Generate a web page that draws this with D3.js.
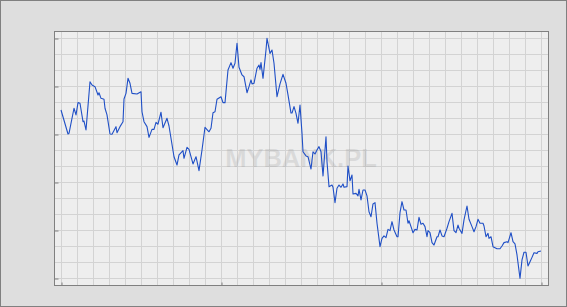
<!DOCTYPE html>
<html>
<head>
<meta charset="utf-8">
<script src="https://cdn.jsdelivr.net/npm/d3@7"></script>
<style>
    html, body { margin: 0; padding: 0; background: #dedede; }
    svg { display: block; }
</style>
</head>
<body>
<div class="chart-container"></div>
<script>
// session index (one per trading day shown) and closing value
const sessions = [
    0, 7, 8, 13, 15, 17, 19, 22, 23, 25, 29, 31, 34, 37, 38, 40, 43, 44, 46, 49,
    51, 55, 56, 59, 62, 63, 65, 67, 69, 71, 76, 80, 81, 83, 86, 88, 91, 93, 95, 97,
    100, 102, 106, 108, 113, 116, 118, 122, 123, 126, 128, 132, 135, 138, 141, 144, 148, 150, 152, 154,
    156, 160, 162, 164, 167, 170, 172, 174, 176, 178, 181, 183, 186, 188, 190, 191, 193, 196, 198, 199,
    200, 202, 205, 206, 209, 211, 213, 216, 219, 222, 225, 227, 230, 231, 233, 235, 237, 239, 241, 242,
    245, 247, 250, 252, 254, 256, 258, 260, 262, 265, 266, 268, 271, 272, 274, 276, 278, 280, 282, 283,
    286, 287, 289, 291, 292, 295, 297, 298, 300, 302, 304, 306, 308, 310, 312, 314, 316, 319, 321, 323,
    325, 327, 329, 331, 333, 336, 337, 339, 341, 343, 345, 347, 348, 350, 352, 354, 356, 358, 360, 362,
    364, 366, 367, 369, 371, 373, 376, 377, 379, 381, 383, 386, 388, 391, 393, 395, 397, 398, 401, 403,
    406, 408, 411, 413, 415, 417, 419, 422, 423, 425, 427, 428, 430, 432, 436, 439, 441, 443, 446, 447,
    450, 452, 454, 456, 459, 461, 463, 465, 467, 469, 471, 473, 476, 477, 480
];
const closes = [
    4.050, 3.900, 3.904, 4.061, 4.019, 4.096, 4.092, 3.977, 3.981, 3.925, 4.227, 4.206, 4.196, 4.144, 4.158, 4.123, 4.117, 4.061, 4.019, 3.900,
    3.898, 3.946, 3.908, 3.946, 3.977, 4.119, 4.154, 4.248, 4.217, 4.154, 4.150, 4.164, 4.039, 3.977, 3.946, 3.879, 3.929, 3.929, 3.973, 3.961,
    4.036, 3.939, 3.998, 3.950, 3.758, 3.706, 3.769, 3.796, 3.748, 3.817, 3.804, 3.713, 3.758, 3.671, 3.800, 3.942, 3.914, 3.936, 4.033, 4.039,
    4.117, 4.133, 4.096, 4.096, 4.300, 4.346, 4.311, 4.342, 4.467, 4.317, 4.269, 4.258, 4.158, 4.196, 4.238, 4.213, 4.217, 4.311, 4.331, 4.304,
    4.346, 4.248, 4.425, 4.498, 4.404, 4.425, 4.342, 4.133, 4.213, 4.273, 4.217, 4.144, 4.031, 4.031, 4.071, 4.029, 3.967, 4.081, 3.904, 3.789,
    3.763, 3.758, 3.681, 3.789, 3.775, 3.800, 3.821, 3.789, 3.638, 3.883, 3.727, 3.571, 3.581, 3.567, 3.471, 3.561, 3.581, 3.567, 3.588, 3.567,
    3.571, 3.700, 3.608, 3.644, 3.525, 3.529, 3.513, 3.554, 3.488, 3.550, 3.550, 3.513, 3.414, 3.383, 3.463, 3.471, 3.342, 3.196, 3.248, 3.263,
    3.252, 3.304, 3.296, 3.352, 3.300, 3.258, 3.258, 3.408, 3.477, 3.425, 3.425, 3.342, 3.358, 3.321, 3.283, 3.304, 3.300, 3.379, 3.336, 3.342,
    3.321, 3.258, 3.296, 3.283, 3.221, 3.206, 3.258, 3.258, 3.300, 3.263, 3.258, 3.311, 3.352, 3.404, 3.296, 3.283, 3.331, 3.311, 3.279, 3.363,
    3.450, 3.367, 3.321, 3.289, 3.321, 3.367, 3.342, 3.342, 3.325, 3.258, 3.279, 3.248, 3.258, 3.196, 3.183, 3.183, 3.200, 3.221, 3.227, 3.221,
    3.283, 3.227, 3.213, 3.144, 2.998, 3.113, 3.161, 3.161, 3.075, 3.102, 3.129, 3.158, 3.154, 3.164, 3.169
];
const xMajorTicks = [0, 160, 320, 480];
const xGridTicks = d3.range(0, 481, 16);
const yMajorTicks = [3.0, 3.3, 3.6, 3.9, 4.2, 4.5];
const yGridTicks = d3.range(0, 16).map(i => +(3.0 + i * 0.1).toFixed(1));
const watermark = "MYBANK.PL";

const width = 567, height = 307;
const plot = { left: 54.5, top: 31.5, right: 548.5, bottom: 285.5 };

const svg = d3.select(".chart-container")
    .append("svg")
    .attr("width", width)
    .attr("height", height);

// outer frame
svg.append("rect")
    .attr("x", 0.5).attr("y", 0.5)
    .attr("width", width - 1).attr("height", height - 1)
    .attr("fill", "#dedede")
    .attr("stroke", "#808080");

svg.append("rect")
    .attr("x", plot.left).attr("y", plot.top)
    .attr("width", plot.right - plot.left).attr("height", plot.bottom - plot.top)
    .attr("fill", "#eeeeee");

const xScale = d3.scaleLinear().domain([0, 480]).range([61, 541]);
const yScale = d3.scaleLinear().domain([3.0, 4.5]).range([278, 38]);

// grid
svg.append("g")
    .selectAll("line.v")
    .data(xGridTicks)
    .join("line")
    .attr("x1", d => Math.round(xScale(d)) + 0.5)
    .attr("x2", d => Math.round(xScale(d)) + 0.5)
    .attr("y1", plot.top).attr("y2", plot.bottom)
    .attr("stroke", "#d3d3d3").attr("stroke-width", 1);

svg.append("g")
    .selectAll("line.h")
    .data(yGridTicks)
    .join("line")
    .attr("x1", plot.left).attr("x2", plot.right)
    .attr("y1", d => Math.round(yScale(d)) + 0.5)
    .attr("y2", d => Math.round(yScale(d)) + 0.5)
    .attr("stroke", "#d3d3d3").attr("stroke-width", 1);

svg.append("text")
    .attr("x", 301).attr("y", 167)
    .attr("text-anchor", "middle")
    .attr("font-family", "Liberation Sans, Arial, sans-serif")
    .attr("font-weight", "bold")
    .attr("font-size", 25.5)
    .attr("fill", "#9a9a9a")
    .attr("fill-opacity", 0.25)
    .text(watermark);

// plot border
svg.append("rect")
    .attr("x", plot.left).attr("y", plot.top)
    .attr("width", plot.right - plot.left).attr("height", plot.bottom - plot.top)
    .attr("fill", "none")
    .attr("stroke", "#808080");

const xAxis = d3.axisTop(xScale).tickValues(xMajorTicks).tickSize(3).tickFormat("");
const yAxis = d3.axisRight(yScale).tickValues(yMajorTicks).tickSize(4).tickFormat("");

svg.append("g")
    .attr("transform", `translate(0.5, ${plot.bottom})`)
    .call(xAxis)
    .call(g => g.select(".domain").remove())
    .call(g => g.selectAll("line").attr("stroke", "#808080"));

svg.append("g")
    .attr("transform", `translate(${plot.left}, 0.5)`)
    .call(yAxis)
    .call(g => g.select(".domain").remove())
    .call(g => g.selectAll("line").attr("stroke", "#808080"));

const points = sessions.map((s, i) => [s, closes[i]]);

const line = d3.line()
    .x(d => xScale(d[0]))
    .y(d => yScale(d[1]));

svg.append("path")
    .datum(points)
    .attr("d", line)
    .attr("fill", "none")
    .attr("stroke", "#1f4fc6")
    .attr("stroke-width", 1.1)
    .attr("stroke-linejoin", "round");
</script>
</body>
</html>
